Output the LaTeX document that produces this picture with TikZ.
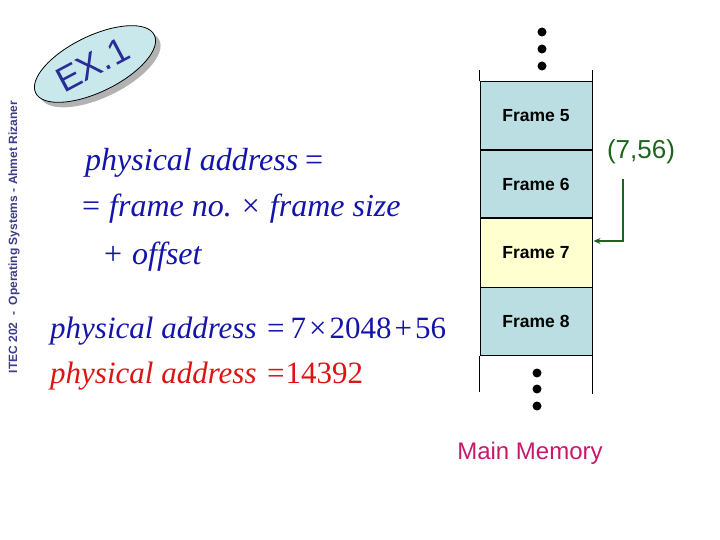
\documentclass[tikz,border=0pt]{standalone}
\usepackage{fontspec}
\setmainfont{Liberation Serif}
\setsansfont{Liberation Sans}
\usetikzlibrary{arrows.meta,shapes.geometric}
\definecolor{eqblue}{RGB}{20,20,170}
\definecolor{eqred}{RGB}{220,20,20}
\definecolor{framebl}{RGB}{186,222,226}
\definecolor{frameyl}{RGB}{255,255,208}
\definecolor{exfill}{RGB}{200,232,236}
\definecolor{exblue}{RGB}{40,44,150}
\definecolor{sidecol}{RGB}{60,60,140}
\definecolor{arrgreen}{RGB}{30,100,30}
\definecolor{memcol}{RGB}{200,24,110}
\tikzset{
  framebox/.style={draw=black, line width=1pt, minimum width=112pt, minimum height=68pt, inner sep=0pt,
    font=\sffamily\bfseries\fontsize{17.5}{20}\selectfont},
  eqtext/.style={anchor=base west, inner sep=0pt, font=\fontsize{31}{36}\selectfont},
  eqbig/.style={eqtext, font=\fontsize{32}{36}\selectfont},
  memdot/.style={fill=black, circle, minimum size=9pt, inner sep=0pt},
}
\begin{document}
\begin{tikzpicture}[x=1pt,y=1pt]
\useasboundingbox (0,0) rectangle (720,-540);
% side text
\node[rotate=90, text=sidecol, font=\sffamily\bfseries\fontsize{12}{14}\selectfont, inner sep=0pt] (side) at (14,-237) {ITEC 202~~-~~Operating Systems - Ahmet Rizaner};
% EX.1 badge
\node[ellipse, fill=black!30, minimum width=132pt, minimum height=56pt, rotate=26, inner sep=0pt] (exshadow) at (100,-69) {};
\node[ellipse, draw=black, line width=0.8pt, fill=exfill, minimum width=132pt, minimum height=56pt, rotate=26, inner sep=0pt] (exell) at (95,-64) {};
\node[rotate=28, text=exblue, font=\sffamily\fontsize{35}{38}\selectfont, inner sep=0pt] (extext) at (93,-65) {EX.\kern2pt1};
% equations
\node[eqbig, text=eqblue] (l1a) at (85,-171) {\itshape physical address};
\node[eqbig, text=eqblue] (l1b) at (305,-171) {=};
\node[eqbig, text=eqblue] (l2) at (82,-217) {=\hspace{9pt}\textit{frame no.}\hspace{10pt}×\hspace{10pt}\textit{frame size}};
\node[eqbig, text=eqblue] (l3) at (104,-264) {+\hspace{10pt}\textit{offset}};
\node[eqtext, text=eqblue] (l4a) at (50,-338) {\itshape physical address};
\node[eqtext, text=eqblue] (l4b) at (267,-338) {=\hspace{6pt}7\hspace{3pt}×\hspace{3pt}2048\hspace{3pt}+\hspace{3pt}56};
\node[eqtext, text=eqred] (l5a) at (50,-383) {\itshape physical address};
\node[eqtext, text=eqred] (l5b) at (267,-383) {=\hspace{1pt}14392};
% memory column
\node[framebox, fill=framebl] (f5) at (536,-116) {\raisebox{-2pt}{Frame 5}};
\node[framebox, fill=framebl] (f6) at (536,-184.5) {\raisebox{-1pt}{Frame 6}};
\node[framebox, fill=frameyl] (f7) at (536,-253) {Frame 7};
\node[framebox, fill=framebl] (f8) at (536,-321) {Frame 8};
\draw[line width=2pt] (f7.north west) -- (f7.north east);
\draw[line width=1pt] (f5.north west) -- ++(0,11);
\draw[line width=1pt] (f5.north east) -- ++(0,11);
\draw[line width=1pt] (f8.south west) -- ++(0,-36);
\draw[line width=1pt] (f8.south east) -- ++(0,-38);
\node[memdot] (d1) at (542,-32) {};
\node[memdot] (d2) at (542,-49) {};
\node[memdot] (d3) at (542,-66) {};
\node[memdot] (d4) at (537,-373) {};
\node[memdot] (d5) at (537,-389) {};
\node[memdot] (d6) at (537,-406) {};
% address label and arrow
\node[text=arrgreen, font=\sffamily\fontsize{26}{30}\selectfont, inner sep=0pt] (addr) at (641,-152) {(7,56)};
\coordinate (astart) at (623,-179);
\draw[arrgreen, line width=1.5pt, -{Stealth[length=7pt,width=6pt]}] (astart) |- ([xshift=1pt,yshift=12pt]f7.east);
% caption
\node[text=memcol, font=\sffamily\fontsize{24}{28}\selectfont, inner sep=0pt] (mem) at (530,-453) {Main Memory};
\end{tikzpicture}
\end{document}
